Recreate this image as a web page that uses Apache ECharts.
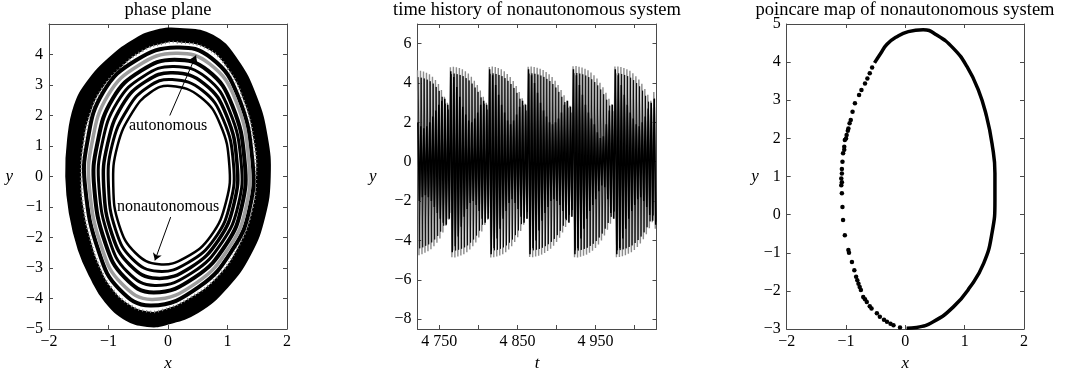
<!DOCTYPE html>
<html>
<head>
<meta charset="utf-8">
<script src="https://cdn.jsdelivr.net/npm/echarts@6/dist/echarts.min.js"></script>
<style>
html, body { margin: 0; padding: 0; background: #fff; }
#main { width: 1068px; height: 368px; }
</style>
</head>
<body>
<div id="main"></div>
<script>
var chartDom = document.getElementById('main');
var myChart = echarts.init(chartDom, null, { renderer: 'canvas' });

var serif = 'Liberation Serif';
var edgeColor = '#4a4a4a';

// ---- phase plane: outline of the black band and the closed orbits inside it
var outerEdge = [[0.2,4.84],[0.75,4.62],[1.15,3.85],[1.48,2.6],[1.66,1.3],[1.71,0.0],[1.62,-1.3],[1.38,-2.55],
  [0.99,-3.63],[0.5,-4.45],[-0.05,-4.85],[-0.35,-4.9],[-0.7,-4.7],[-1.05,-4.1],[-1.3,-3.3],[-1.5,-2.4],
  [-1.65,-1.2],[-1.71,0.0],[-1.68,1.2],[-1.57,2.3],[-1.35,3.1],[-0.97,3.9],[-0.55,4.5],[-0.2,4.78]];
var bandInner = [[0.15,4.4],[0.65,4.2],[1.0,3.55],[1.28,2.45],[1.44,1.2],[1.48,0.0],[1.4,-1.2],[1.18,-2.3],
  [0.82,-3.3],[0.35,-4.0],[-0.1,-4.38],[-0.35,-4.42],[-0.65,-4.2],[-0.95,-3.65],[-1.15,-2.95],[-1.3,-2.1],
  [-1.42,-1.05],[-1.46,0.0],[-1.42,1.1],[-1.3,2.1],[-1.1,2.9],[-0.75,3.65],[-0.4,4.15],[-0.1,4.35]];
var orbit0 = [[0.05,2.97],[0.55,2.6],[0.88,1.7],[1.03,0.4],[0.98,-0.8],[0.72,-1.95],[0.3,-2.65],[-0.15,-2.88],[-0.55,-2.5],[-0.82,-1.6],[-0.92,-0.3],[-0.85,1.0],[-0.6,2.1],[-0.3,2.75]];
var orbit1 = [[0.07,3.18],[0.58,2.82],[0.93,1.86],[1.1,0.42],[1.05,-0.85],[0.79,-2.02],[0.34,-2.82],[-0.17,-3.11],[-0.6,-2.7],[-0.88,-1.75],[-1.0,-0.32],[-0.94,1.02],[-0.68,2.21],[-0.34,2.93]];
var orbit2 = [[0.08,3.4],[0.61,3.04],[0.98,2.02],[1.16,0.43],[1.11,-0.89],[0.85,-2.08],[0.38,-2.98],[-0.19,-3.34],[-0.64,-2.9],[-0.94,-1.9],[-1.08,-0.33],[-1.02,1.03],[-0.77,2.33],[-0.38,3.11]];
var orbit3 = [[0.1,3.61],[0.64,3.25],[1.03,2.17],[1.23,0.45],[1.18,-0.94],[0.91,-2.15],[0.41,-3.15],[-0.22,-3.57],[-0.69,-3.11],[-0.99,-2.05],[-1.16,-0.35],[-1.11,1.05],[-0.85,2.44],[-0.41,3.29]];
var orbit4 = [[0.11,3.83],[0.67,3.47],[1.08,2.33],[1.29,0.46],[1.24,-0.98],[0.98,-2.22],[0.45,-3.31],[-0.24,-3.8],[-0.73,-3.31],[-1.05,-2.2],[-1.24,-0.36],[-1.19,1.06],[-0.93,2.55],[-0.45,3.47]];
var orbit5 = [[0.13,4.04],[0.7,3.69],[1.14,2.49],[1.36,0.47],[1.31,-1.03],[1.04,-2.29],[0.49,-3.47],[-0.26,-4.03],[-0.78,-3.51],[-1.11,-2.35],[-1.32,-0.38],[-1.28,1.08],[-1.01,2.66],[-0.49,3.65]];
var orbit6 = [[0.14,4.23],[0.73,3.88],[1.18,2.62],[1.42,0.49],[1.37,-1.06],[1.1,-2.35],[0.52,-3.62],[-0.28,-4.23],[-0.82,-3.69],[-1.16,-2.48],[-1.39,-0.39],[-1.36,1.09],[-1.09,2.76],[-0.53,3.82]];
var arrowAuto = [[0.03, 2.0], [0.47, 3.97]];
var arrowNonauto = [[0.045, -1.33], [-0.22, -2.75]];
var notes = [{ name: 'autonomous', value: [0.0, 1.67] }, { name: 'nonautonomous', value: [0.0, -1.0] }];

// ---- time history: peak, trough and dark-core amplitude of each cycle
var tStart = 4722;
var cycle = 3.83;
var yUpper = [4.65,4.62,4.58,4.52,4.44,4.32,4.15,3.95,3.65,3.3,3.0,
  4.8,4.83,4.8,4.76,4.7,4.6,4.48,4.32,4.12,3.9,3.62,3.3,3.0,
  4.82,4.84,4.81,4.76,4.7,4.6,4.46,4.3,4.1,3.85,3.55,3.22,2.95,
  4.83,4.84,4.82,4.78,4.73,4.66,4.56,4.45,4.3,4.12,3.9,3.65,3.38,3.1,2.85,
  4.85,4.86,4.83,4.79,4.73,4.65,4.54,4.4,4.23,4.02,3.78,3.5,3.2,2.92,
  4.84,4.84,4.81,4.76,4.7,4.62,4.5,4.35,4.18,3.96,3.7,3.4,3.1,3.55];
var yLower = [-4.75,-4.7,-4.62,-4.55,-4.45,-4.3,-4.12,-3.9,-3.6,-3.25,-2.95,
  -4.85,-4.86,-4.82,-4.77,-4.7,-4.6,-4.46,-4.3,-4.1,-3.85,-3.55,-3.22,-2.95,
  -4.86,-4.85,-4.82,-4.77,-4.7,-4.6,-4.46,-4.3,-4.08,-3.84,-3.52,-3.2,-2.9,
  -4.84,-4.85,-4.82,-4.78,-4.72,-4.64,-4.54,-4.42,-4.27,-4.08,-3.86,-3.6,-3.32,-3.05,-2.8,
  -4.85,-4.86,-4.83,-4.78,-4.72,-4.63,-4.52,-4.38,-4.2,-4.0,-3.75,-3.46,-3.15,-2.88,
  -4.85,-4.84,-4.8,-4.75,-4.68,-4.6,-4.48,-4.33,-4.15,-3.94,-3.68,-3.38,-3.08,-3.4];
var yCore = [2.0,1.8,1.7,1.8,2.0,2.3,2.6,2.9,3.1,3.2,2.9,
  4.6,4.3,3.8,3.3,2.8,2.4,2.1,2.0,2.2,2.5,2.9,3.1,2.9,
  4.7,4.4,3.9,3.4,2.9,2.5,2.1,1.9,2.1,2.4,2.8,3.1,2.9,
  4.7,4.4,4.0,3.5,3.0,2.6,2.3,2.0,1.9,2.0,2.2,2.5,2.9,3.1,2.8,
  4.7,4.4,3.9,3.4,2.9,2.5,2.2,1.9,1.5,1.2,1.3,1.9,2.6,2.9,
  4.7,4.4,3.9,3.4,2.9,2.5,2.2,1.9,1.8,2.0,2.3,2.7,3.0,3.2];
var timeTicks = [4750, 4800, 4850, 4900, 4950, 5000];
var timeLabels = [4750, 4850, 4950];
var yTicksTime = [-8, -6, -4, -2, 0, 2, 4, 6];

// ---- poincare map: densely hit arc and the sparse points on the left
var poincareArc = [[0.02,-2.98],[0.19,-2.96],[0.47,-2.81],[0.81,-2.42],[1.09,-1.9],[1.32,-1.28],[1.46,-0.49],
  [1.51,0.38],[1.51,1.08],[1.46,1.87],[1.37,2.57],[1.23,3.27],[1.04,3.88],[0.81,4.36],[0.53,4.71],[0.3,4.85],
  [0.05,4.8],[-0.15,4.66],[-0.31,4.47],[-0.42,4.22],[-0.52,3.98]];
var poincareDots = [[-0.56,3.86],[-0.6,3.71],[-0.64,3.57],[-0.68,3.44],[-0.74,3.27],[-0.78,3.14],[-0.85,2.92],
  [-0.89,2.7],[-0.92,2.48],[-0.94,2.4],[-0.96,2.26],[-0.97,2.2],[-0.99,2.09],[-1.0,2.0],[-1.02,1.96],[-1.03,1.78],
  [-1.03,1.7],[-1.05,1.61],[-1.06,1.39],[-1.07,1.2],[-1.07,1.08],[-1.08,0.95],[-1.07,0.85],[-1.08,0.77],
  [-1.07,0.56],[-1.06,0.2],[-1.05,-0.14],[-1.02,-0.54],[-0.96,-0.93],[-0.95,-1.0],[-0.9,-1.24],[-0.86,-1.46],
  [-0.83,-1.63],[-0.81,-1.72],[-0.79,-1.81],[-0.77,-1.9],[-0.75,-1.98],[-0.71,-2.16],[-0.68,-2.22],[-0.65,-2.29],
  [-0.6,-2.4],[-0.57,-2.46],[-0.48,-2.59],[-0.43,-2.68],[-0.36,-2.76],[-0.31,-2.81],[-0.25,-2.86],[-0.2,-2.9],
  [-0.09,-2.96]];

// gray and black traces alternate within each cycle; the core trace fills the dark middle
var grayLine = [];
var blackLine = [];
var coreLine = [];
for (var k = 0; k < yUpper.length; k++) {
  var t = tStart + k * cycle;
  grayLine.push([t, yUpper[k]], [t + cycle / 2, yLower[k]]);
  blackLine.push([t + cycle / 4, yUpper[k] - 0.35], [t + cycle * 3 / 4, yLower[k] + 0.35]);
  coreLine.push([t + cycle / 8, yCore[k]], [t + cycle * 5 / 8, -yCore[k]]);
}

function minusSign(v) {
  return String(v).replace('-', '\u2212');
}

function frame(gridIndex, side, min, max, interval, showLabel) {
  var isX = side === 'bottom' || side === 'top';
  return {
    type: 'value', gridIndex: gridIndex, position: side, min: min, max: max, interval: interval,
    axisLine: { show: true, onZero: false, lineStyle: { color: edgeColor, width: 1 } },
    axisTick: { show: true, inside: true, length: 4, lineStyle: { color: edgeColor } },
    axisLabel: { show: showLabel, color: '#000', fontFamily: serif, fontSize: 16, margin: isX ? 5 : 6, formatter: minusSign },
    splitLine: { show: false }
  };
}

function axisName(ax, name, gap) {
  ax.name = name;
  ax.nameLocation = 'middle';
  ax.nameGap = gap;
  ax.nameRotate = 0;
  ax.nameTextStyle = { fontFamily: serif, fontStyle: 'italic', fontSize: 17, color: '#000' };
  return ax;
}

var xAxes = [
  axisName(frame(0, 'bottom', -2, 2, 1, true), 'x', 18),
  frame(0, 'top', -2, 2, 1, false),
  axisName(frame(1, 'bottom', 4722, 5028, null, true), 't', 14),
  frame(1, 'top', 4722, 5028, null, false),
  axisName(frame(2, 'bottom', -2, 2, 1, true), 'x', 19),
  frame(2, 'top', -2, 2, 1, false)
];
var yAxes = [
  axisName(frame(0, 'left', -5, 5, 1, true), 'y', 36),
  frame(0, 'right', -5, 5, 1, false),
  axisName(frame(1, 'left', -8.5, 7, null, true), 'y', 41),
  frame(1, 'right', -8.5, 7, null, false),
  axisName(frame(2, 'left', -3, 5, 1, true), 'y', 25),
  frame(2, 'right', -3, 5, 1, false)
];
yAxes[0].axisLabel.showMaxLabel = false;
[2, 3].forEach(function (i) {
  xAxes[i].axisTick.customValues = timeTicks;
  xAxes[i].axisLabel.customValues = timeLabels;
  xAxes[i].axisLabel.formatter = function (v) { var s = String(v); return s.slice(0, 1) + ' ' + s.slice(1); };
  yAxes[i].axisTick.customValues = yTicksTime;
  yAxes[i].axisLabel.customValues = yTicksTime;
});

function loop(points, fill, stroke, width, dash) {
  return {
    type: 'custom', xAxisIndex: 0, yAxisIndex: 0, data: [[0, 0]], silent: true,
    renderItem: function (params, api) {
      return {
        type: 'polygon',
        shape: { points: points.map(function (p) { return api.coord(p); }), smooth: 0.45 },
        style: { fill: fill, stroke: stroke, lineWidth: width, lineDash: dash || null }
      };
    }
  };
}

function trace(data, color, width) {
  return {
    type: 'line', xAxisIndex: 2, yAxisIndex: 2, data: data, showSymbol: false,
    lineStyle: { color: color, width: width }
  };
}

var gray = '#9c9c9c';
var option = {
  animation: false,
  backgroundColor: '#fff',
  textStyle: { fontFamily: serif },
  title: [
    { text: 'phase plane', left: 168, top: 1, textAlign: 'center', padding: 0 },
    { text: 'time history of nonautonomous system', left: 537, top: 1, textAlign: 'center', padding: 0 },
    { text: 'poincare map of nonautonomous system', left: 905, top: 1, textAlign: 'center', padding: 0 }
  ].map(function (t) {
    t.textStyle = { fontFamily: serif, fontSize: 18.5, fontWeight: 'normal', color: '#000' };
    return t;
  }),
  grid: [
    { left: 49, top: 24, width: 238, height: 305, outerBoundsMode: 'none' },
    { left: 417.5, top: 24, width: 239, height: 305, outerBoundsMode: 'none' },
    { left: 786.7, top: 24, width: 237.3, height: 305, outerBoundsMode: 'none' }
  ],
  xAxis: xAxes,
  yAxis: yAxes,
  series: [
    loop(outerEdge, '#000', '#000', 2),
    loop(bandInner, '#fff', '#888', 2.5, [1, 3]),
    loop(orbit6, 'none', '#000', 4),
    loop(orbit5, 'none', gray, 3.5),
    loop(orbit4, 'none', '#000', 4),
    loop(orbit3, 'none', '#000', 3),
    loop(orbit2, 'none', '#000', 3.5),
    loop(orbit1, 'none', '#000', 3),
    loop(orbit0, 'none', '#000', 2.5),
    {
      type: 'lines', coordinateSystem: 'cartesian2d', xAxisIndex: 0, yAxisIndex: 0,
      symbol: ['none', 'arrow'], symbolSize: 7,
      lineStyle: { color: '#000', width: 1, opacity: 1 },
      data: [{ coords: arrowAuto }, { coords: arrowNonauto }]
    },
    {
      type: 'scatter', xAxisIndex: 0, yAxisIndex: 0, symbolSize: 0, data: notes,
      itemStyle: { opacity: 1 },
      label: { show: true, position: 'inside', formatter: '{b}', fontFamily: serif, fontSize: 16, color: '#000' }
    },
    trace(grayLine, '#8c8c8c', 1.4),
    trace(blackLine, '#000', 0.8),
    trace(coreLine, '#000', 1.5),
    {
      type: 'line', xAxisIndex: 4, yAxisIndex: 4, data: poincareArc, showSymbol: false, smooth: true,
      lineStyle: { color: '#000', width: 3.5 }
    },
    {
      type: 'scatter', xAxisIndex: 4, yAxisIndex: 4, data: poincareDots, symbol: 'circle', symbolSize: 4.5,
      itemStyle: { color: '#000', opacity: 1 }
    }
  ]
};

myChart.setOption(option);
</script>
</body>
</html>
